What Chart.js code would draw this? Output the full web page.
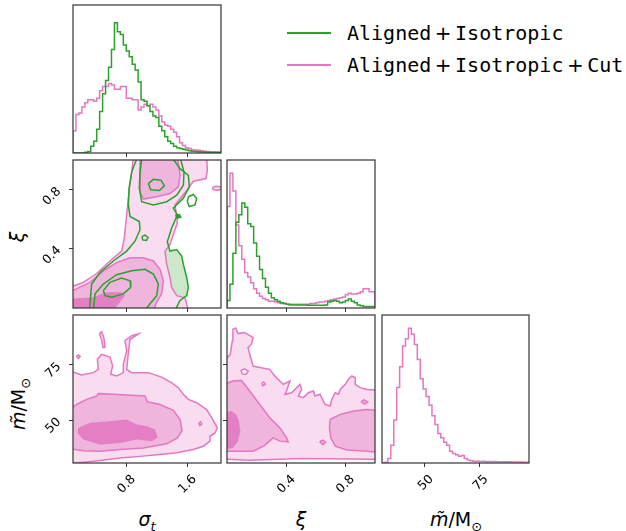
<!DOCTYPE html>
<html>
<head>
<meta charset="utf-8">
<script src="https://cdn.jsdelivr.net/npm/chart.js@4.4.0/dist/chart.umd.min.js"></script>
<style>
html, body { margin: 0; padding: 0; background: #fff; }
#fig { position: relative; width: 626px; height: 531px; overflow: hidden; }
.panel { position: absolute; }
.panel canvas { display: block; }
.lab { position: absolute; font-family: "DejaVu Sans", sans-serif; font-size: 19px; color: #000;
       transform: translate(-50%, -50%); white-space: nowrap; line-height: 1; }
.lab sub { font-size: 13px; vertical-align: -5px; line-height: 0; }
.lab.rot { transform: translate(-50%, -50%) rotate(-90deg); }
.legend { position: absolute; left: 287px; top: 17px; font-family: "DejaVu Sans Mono", monospace;
          font-size: 20px; color: #000; }
.legend .row { display: flex; align-items: center; height: 32px; white-space: nowrap; }
.legend .sw { width: 44px; height: 2px; margin-right: 16px; }
.legend .op { font-family: "DejaVu Sans", sans-serif; margin: 0 3.5px; }
</style>
</head>
<body>
<div id="fig">
  <div class="legend">
    <div class="row"><div class="sw" style="background:#2ca02c"></div>Aligned<span class="op">+</span>Isotropic</div>
    <div class="row"><div class="sw" style="background:#e377c2"></div>Aligned<span class="op">+</span>Isotropic<span class="op">+</span>Cut</div>
  </div>
  <div class="lab" style="left:147px;top:519px"><i>σ</i><sub><i>t</i></sub></div>
  <div class="lab" style="left:301px;top:519px"><i>ξ</i></div>
  <div class="lab" style="left:456px;top:519px"><i>m̃</i>/M<sub>⊙</sub></div>
  <div class="lab rot" style="left:17px;top:237px"><i>ξ</i></div>
  <div class="lab rot" style="left:18px;top:404px"><i>m̃</i>/M<sub>⊙</sub></div>
</div>
<script>
// axis ranges and ticks
const SIGMA_RANGE = [0.096, 2.037];
const XI_RANGE = [-0.004, 1.0];
const M_RANGE = [30.6, 97.6];
const SIGMA_TICKS = [0.8, 1.6];
const XI_TICKS = [0.4, 0.8];
const M_TICKS = [50, 75];

// 1D marginals, 50 bins each, normalised to the panel height
const sigmaHistAligned = [0, 0, 0, 0, 0.005, 0.01, 0.045, 0.08, 0.16, 0.28,
  0.40, 0.49, 0.58, 0.70, 0.88, 0.82, 0.80, 0.73, 0.69, 0.65,
  0.60, 0.56, 0.48, 0.36, 0.35, 0.32, 0.28, 0.25, 0.24, 0.18,
  0.15, 0.11, 0.08, 0.065, 0.045, 0.035, 0.03, 0.025, 0.02, 0.015,
  0.012, 0.01, 0.008, 0.007, 0.006, 0.005, 0.004, 0.004, 0.003, 0.003];
const sigmaHistCut = [0.15, 0.26, 0.27, 0.31, 0.34, 0.36, 0.36, 0.35, 0.37, 0.42,
  0.45, 0.45, 0.47, 0.46, 0.43, 0.43, 0.45, 0.45, 0.37, 0.37,
  0.36, 0.36, 0.29, 0.31, 0.33, 0.32, 0.33, 0.31, 0.29, 0.25,
  0.21, 0.19, 0.18, 0.16, 0.14, 0.11, 0.07, 0.05, 0.035, 0.03,
  0.022, 0.02, 0.018, 0.015, 0.012, 0.01, 0.009, 0.008, 0.007, 0.006];
const xiHistAligned = [0.05, 0.16, 0.37, 0.58, 0.63, 0.71, 0.68, 0.57, 0.55, 0.44,
  0.35, 0.26, 0.20, 0.14, 0.10, 0.07, 0.055, 0.045, 0.035, 0.03,
  0.025, 0.02, 0.02, 0.02, 0.02, 0.02, 0.02, 0.018, 0.018, 0.018,
  0.018, 0.018, 0.018, 0.02, 0.04, 0.045, 0.05, 0.045, 0.035, 0.04,
  0.05, 0.06, 0.045, 0.035, 0.02, 0.015, 0.01, 0.01, 0.01, 0.01];
const xiHistCut = [0.685, 0.91, 0.79, 0.56, 0.42, 0.33, 0.24, 0.21, 0.17, 0.13,
  0.10, 0.08, 0.065, 0.055, 0.045, 0.045, 0.04, 0.035, 0.03, 0.03,
  0.025, 0.025, 0.025, 0.025, 0.025, 0.025, 0.025, 0.025, 0.03, 0.03,
  0.035, 0.04, 0.04, 0.045, 0.05, 0.055, 0.06, 0.065, 0.07, 0.075,
  0.09, 0.10, 0.095, 0.095, 0.10, 0.11, 0.13, 0.13, 0.11, 0.11];
const massHistCut = [0, 0.005, 0.03, 0.12, 0.29, 0.51, 0.65, 0.79, 0.84, 0.91,
  0.87, 0.80, 0.70, 0.57, 0.50, 0.45, 0.39, 0.32, 0.26, 0.20,
  0.17, 0.14, 0.12, 0.08, 0.065, 0.055, 0.045, 0.05, 0.03, 0.02,
  0.015, 0.012, 0.012, 0.01, 0.011, 0.009, 0.01, 0.008, 0.01, 0.009,
  0.008, 0.009, 0.007, 0.008, 0.007, 0.006, 0.007, 0.006, 0.005, 0.005];

// 2D credible contours as [x, y] outlines in data units
// sigma_t vs xi
const sxCutOuter = [[0.05,-0.02],[0.05,0.136],[0.232,0.170],[0.407,0.230],[0.581,0.315],[0.734,0.382],
  [0.769,0.472],[0.791,0.583],[0.813,0.695],[0.835,0.807],[0.866,0.918],[0.887,1.02],[1.849,1.02],
  [1.858,0.930],[1.84,0.874],[1.674,0.856],[1.609,0.807],[1.521,0.751],[1.434,0.695],[1.456,0.617],
  [1.465,0.572],[1.412,0.494],[1.368,0.427],[1.303,0.382],[1.325,0.293],[1.368,0.203],[1.39,0.136],
  [1.456,0.080],[1.565,0.065],[1.609,-0.02]];
const sxCutIsle = [[1.93,0.815],[1.98,0.822],[2.05,0.815],[2.05,0.80],[1.98,0.795],[1.93,0.80]];
const sxCutMidTop = [[0.984,1.02],[0.975,0.896],[0.975,0.784],[1.019,0.735],[1.194,0.751],[1.368,0.773],
  [1.478,0.818],[1.500,0.896],[1.465,1.02]];
const sxCutMidLow = [[0.05,0.103],[0.319,0.170],[0.494,0.248],[0.669,0.304],[0.844,0.337],[1.019,0.337],
  [1.15,0.315],[1.237,0.259],[1.281,0.181],[1.259,0.092],[1.194,0.036],[1.15,-0.02],[0.05,-0.02]];
const sxCutCore = [[0.05,0.058],[0.363,0.069],[0.538,0.103],[0.734,0.103],[0.778,0.080],[0.713,0.036],
  [0.625,-0.02],[0.05,-0.02]];
const sxAlignedOuter = [[0.94,1.02],[0.866,0.918],[0.831,0.807],[0.822,0.695],[0.844,0.617],[0.966,0.583],
  [0.975,0.527],[0.909,0.449],[0.8,0.382],[0.625,0.315],[0.45,0.237],[0.341,0.159],[0.311,-0.02],
  [1.434,-0.02],[1.5,0.047],[1.587,0.080],[1.609,0.136],[1.587,0.203],[1.543,0.293],[1.521,0.349],
  [1.456,0.393],[1.368,0.382],[1.333,0.445],[1.39,0.539],[1.465,0.628],[1.412,0.673],[1.543,0.740],
  [1.622,0.818],[1.609,0.896],[1.50,0.941],[1.39,1.02]];
const sxAlignedTop = [[1.0,1.02],[0.975,0.918],[0.966,0.807],[0.997,0.717],[1.15,0.695],[1.325,0.717],
  [1.456,0.762],[1.543,0.829],[1.552,0.918],[1.50,1.02]];
const sxAlignedTopCore = [[1.084,0.840],[1.15,0.869],[1.25,0.863],[1.294,0.825],[1.229,0.793],[1.115,0.798]];
const sxAlignedLow = [[0.363,-0.02],[0.385,0.092],[0.494,0.159],[0.669,0.222],[0.866,0.248],[1.041,0.259],
  [1.15,0.226],[1.215,0.159],[1.194,0.080],[1.106,0.025],[1.04,-0.02]];
const sxAlignedLowCore = [[0.494,0.114],[0.581,0.170],[0.734,0.199],[0.844,0.181],[0.853,0.136],
  [0.756,0.092],[0.603,0.069],[0.516,0.080]];
const sxAlignedIsleA = [[1.609,0.751],[1.674,0.766],[1.718,0.740],[1.696,0.695],[1.622,0.684],[1.596,0.717]];
const sxAlignedIsleB = [[1.0,0.48],[1.04,0.49],[1.08,0.475],[1.06,0.455],[1.01,0.458]];
const sxAlignedIsleC = [[1.44,0.625],[1.49,0.63],[1.51,0.612],[1.47,0.605]];

// sigma_t vs mass
const smCutOuter = [[0.05,72.3],[0.210,70.5],[0.363,71.5],[0.428,73.0],[0.415,77.6],[0.472,79.8],
  [0.581,78.6],[0.616,74.5],[0.590,70.8],[0.669,70.0],[0.756,71.5],[0.756,75.3],[0.800,81.4],
  [0.778,86.0],[0.866,88.2],[0.953,89.0],[0.844,86.5],[0.822,80.5],[0.800,73.0],[0.866,71.5],
  [1.084,71.5],[1.259,69.5],[1.390,66.9],[1.478,64.7],[1.543,61.7],[1.609,59.4],[1.718,57.9],
  [1.849,54.8],[1.915,51.1],[1.989,46.5],[1.958,44.2],[1.893,42.7],[1.893,40.5],[1.805,38.2],
  [1.674,36.7],[1.456,35.2],[1.237,34.4],[0.975,33.6],[0.713,32.9],[0.45,31.7],[0.275,31.1],[0.05,30.5]];
const smCutMid = [[0.05,54.8],[0.144,57.1],[0.275,59.4],[0.407,60.9],[0.428,62.0],[0.625,61.7],
  [0.800,61.4],[1.041,60.9],[1.071,58.3],[1.237,57.1],[1.412,54.4],[1.500,50.3],[1.526,45.3],
  [1.465,42.0],[1.325,39.3],[1.019,37.4],[0.713,36.7],[0.450,35.9],[0.232,36.2],[0.05,37.1]];
const smCutCore = [[0.166,46.5],[0.319,48.8],[0.581,49.5],[0.800,50.3],[0.931,48.0],[1.062,47.3],
  [1.172,45.8],[1.207,42.0],[1.128,40.5],[0.931,41.2],[0.713,39.7],[0.450,38.9],[0.232,41.2],[0.153,44.2]];
const smCutIsleA = [[0.441,89.2],[0.472,90.0],[0.50,87.5],[0.516,83.0],[0.49,82.8],[0.47,86.5]];
const smCutIsleB = [[0.14,79.0],[0.166,79.5],[0.19,78.9],[0.166,77.9]];
const smCutIsleC = [[1.745,48.8],[1.77,49.3],[1.785,48.2],[1.76,47.5]];

// xi vs mass
const xmCutOuter = [[-0.02,76.8],[0.018,79.8],[0.032,85.9],[0.036,91.2],[0.055,91.7],[0.07,89.2],
  [0.116,89.7],[0.173,87.4],[0.161,84.4],[0.139,82.9],[0.15,79.8],[0.173,74.5],[0.218,73.8],
  [0.286,73.0],[0.32,70.0],[0.377,66.2],[0.423,67.7],[0.4,63.2],[0.389,61.7],[0.434,62.4],
  [0.491,66.2],[0.502,63.9],[0.48,60.9],[0.514,60.2],[0.548,62.4],[0.582,63.2],[0.593,60.9],
  [0.627,61.7],[0.661,57.1],[0.695,56.4],[0.707,59.4],[0.73,62.4],[0.752,61.7],[0.764,63.9],
  [0.798,66.2],[0.82,68.5],[0.843,70.0],[0.866,69.2],[0.866,66.2],[0.9,64.7],[0.945,63.9],
  [1.02,63.5],[1.02,32.3],[0.5,32.6],[0.15,31.8],[-0.02,32.3]];
const xmCutMidLeft = [[-0.02,66.2],[0.036,67.7],[0.093,68.0],[0.15,63.2],[0.218,57.1],[0.286,51.1],
  [0.355,46.5],[0.4,42.0],[0.411,40.2],[0.355,40.5],[0.309,42.0],[0.25,38.5],[0.173,35.9],[-0.02,35.9]];
const xmCutMidRight = [[0.695,50.3],[0.764,52.6],[0.855,54.1],[0.945,54.8],[1.02,54.4],[1.02,35.5],
  [0.923,36.0],[0.809,36.5],[0.73,38.2],[0.7,42.0],[0.691,46.5]];
const xmCutCore = [[-0.02,53.3],[0.025,54.1],[0.059,52.6],[0.077,49.5],[0.086,45.0],[0.07,40.5],
  [0.036,37.4],[-0.02,36.7]];
const xmCutHoleA = [[0.09,72.5],[0.116,73.2],[0.14,72.2],[0.125,70.8],[0.10,70.9]];
const xmCutHoleB = [[0.232,66.8],[0.245,67.3],[0.255,66.3],[0.24,65.5]];
const xmCutIsleC = [[0.625,40.3],[0.645,41.0],[0.665,40.0],[0.645,38.9]];
const xmCutIsleD = [[0.905,58.4],[0.927,59.2],[0.95,58.2],[0.93,57.3]];

// colours
const GREEN = '#2ca02c';
const PINK = '#e377c2';
const PINK_LIGHT = '#f9dcef';
const PINK_MID = '#efb5dc';
const PINK_DARK = '#e47fc5';
const GREEN_LIGHT = '#cbe8cb';

// fills the closed outline of a dataset from the points Chart.js placed
const areaFill = {
  id: 'areaFill',
  beforeDatasetDraw(chart, args) {
    const ds = chart.data.datasets[args.index];
    if (!ds.areaColor) return;
    const pts = args.meta.data;
    const a = chart.chartArea;
    const ctx = chart.ctx;
    ctx.save();
    ctx.beginPath();
    ctx.rect(a.left, a.top, a.right - a.left, a.bottom - a.top);
    ctx.clip();
    ctx.beginPath();
    pts.forEach((p, i) => (i ? ctx.lineTo(p.x, p.y) : ctx.moveTo(p.x, p.y)));
    ctx.closePath();
    ctx.fillStyle = ds.areaColor;
    ctx.fill();
    ctx.restore();
  }
};

// box round every panel
const frame = {
  id: 'frame',
  afterDatasetsDraw(chart) {
    const a = chart.chartArea;
    const ctx = chart.ctx;
    ctx.save();
    ctx.strokeStyle = '#333';
    ctx.lineWidth = 1.2;
    ctx.strokeRect(a.left, a.top, a.right - a.left, a.bottom - a.top);
    ctx.restore();
  }
};

function contour(points, fill, line) {
  const data = points.map(([x, y]) => ({x, y}));
  data.push(data[0]);
  return {
    data, showLine: true, pointRadius: 0, tension: 0, clip: 0,
    borderWidth: line ? 1.5 : 0, borderColor: line || 'rgba(0,0,0,0)',
    areaColor: fill || null
  };
}

function hist(values, range, color) {
  const [lo, hi] = range;
  const w = (hi - lo) / values.length;
  const data = [{x: lo, y: 0}];
  values.forEach((v, i) => data.push({x: lo + i * w, y: v}));
  data.push({x: hi, y: values[values.length - 1]});
  data.push({x: hi, y: 0});
  return {data, showLine: true, stepped: true, pointRadius: 0, borderWidth: 1.5, borderColor: color, clip: 0};
}

function axis(range, ticks, showLabels, dir, fmt) {
  return {
    type: 'linear', min: range[0], max: range[1],
    afterBuildTicks: s => { s.ticks = ticks.map(v => ({value: v})); },
    afterFit: s => { if (dir === 'x') s.height = 40; else s.width = 40; },
    grid: {drawOnChartArea: false, drawTicks: true, tickLength: 4, color: '#333', lineWidth: 1},
    border: {display: false},
    ticks: {
      display: showLabels, autoSkip: false, minRotation: 45, maxRotation: 45,
      padding: dir === 'x' ? 5 : 10, labelOffset: dir === 'x' ? 7 : 0,
      font: {family: 'DejaVu Sans', size: 12.5}, color: '#000',
      callback: fmt
    }
  };
}

const oneDecimal = v => v.toFixed(1);
const whole = v => String(Math.round(v));

const fig = document.getElementById('fig');

function panel(rect, x, y, datasets) {
  const L = 60, T = 20, R = 6, B = 50, AX = 40;
  const wrap = document.createElement('div');
  wrap.className = 'panel';
  wrap.style.left = (rect.x - L) + 'px';
  wrap.style.top = (rect.y - T) + 'px';
  const cv = document.createElement('canvas');
  cv.width = rect.w + L + R;
  cv.height = rect.h + T + B;
  wrap.appendChild(cv);
  fig.appendChild(wrap);
  // first dataset in the list is painted first
  datasets.forEach((d, i) => { d.order = 1000 - i; });
  new Chart(cv, {
    type: 'scatter',
    data: {datasets},
    options: {
      responsive: false, animation: false, events: [],
      layout: {padding: {left: y ? L - AX : L, top: T, right: R, bottom: B - AX}},
      plugins: {legend: {display: false}, tooltip: {enabled: false}},
      scales: {x, y: y || {display: false, min: 0, max: 1}}
    },
    plugins: [areaFill, frame]
  });
}

// top row: sigma_t marginal
panel({x: 73, y: 5, w: 148, h: 148},
  axis(SIGMA_RANGE, SIGMA_TICKS, false, 'x', oneDecimal), null,
  [hist(sigmaHistCut, SIGMA_RANGE, PINK), hist(sigmaHistAligned, SIGMA_RANGE, GREEN)]);

// middle row: xi vs sigma_t, xi marginal
panel({x: 73, y: 160, w: 148, h: 148},
  axis(SIGMA_RANGE, SIGMA_TICKS, false, 'x', oneDecimal),
  axis(XI_RANGE, XI_TICKS, true, 'y', oneDecimal),
  [
    contour(sxAlignedOuter, GREEN_LIGHT, null),
    contour(sxCutOuter, PINK_LIGHT, PINK),
    contour(sxCutIsle, PINK_LIGHT, PINK),
    contour(sxCutMidTop, PINK_MID, PINK),
    contour(sxCutMidLow, PINK_MID, PINK),
    contour(sxCutCore, PINK_DARK, null),
    contour(sxAlignedOuter, null, GREEN),
    contour(sxAlignedTop, null, GREEN),
    contour(sxAlignedTopCore, null, GREEN),
    contour(sxAlignedLow, null, GREEN),
    contour(sxAlignedLowCore, null, GREEN),
    contour(sxAlignedIsleA, null, GREEN),
    contour(sxAlignedIsleB, null, GREEN),
    contour(sxAlignedIsleC, GREEN, GREEN)
  ]);

panel({x: 227, y: 160, w: 148, h: 148},
  axis(XI_RANGE, XI_TICKS, false, 'x', oneDecimal), null,
  [hist(xiHistCut, XI_RANGE, PINK), hist(xiHistAligned, XI_RANGE, GREEN)]);

// bottom row: mass against sigma_t and xi, mass marginal
panel({x: 73, y: 315, w: 148, h: 148},
  axis(SIGMA_RANGE, SIGMA_TICKS, true, 'x', oneDecimal),
  axis(M_RANGE, M_TICKS, true, 'y', whole),
  [
    contour(smCutOuter, PINK_LIGHT, PINK),
    contour(smCutIsleA, PINK_LIGHT, PINK),
    contour(smCutIsleB, PINK_LIGHT, PINK),
    contour(smCutIsleC, PINK_LIGHT, PINK),
    contour(smCutMid, PINK_MID, PINK),
    contour(smCutCore, PINK_DARK, null)
  ]);

panel({x: 227, y: 315, w: 148, h: 148},
  axis(XI_RANGE, XI_TICKS, true, 'x', oneDecimal),
  axis(M_RANGE, M_TICKS, false, 'y', whole),
  [
    contour(xmCutOuter, PINK_LIGHT, PINK),
    contour(xmCutHoleA, '#fff', PINK),
    contour(xmCutHoleB, '#fff', PINK),
    contour(xmCutMidLeft, PINK_MID, PINK),
    contour(xmCutMidRight, PINK_MID, PINK),
    contour(xmCutIsleC, PINK_MID, PINK),
    contour(xmCutIsleD, PINK_MID, PINK),
    contour(xmCutCore, PINK_DARK, null)
  ]);

panel({x: 382, y: 315, w: 147, h: 148},
  axis(M_RANGE, M_TICKS, true, 'x', whole), null,
  [hist(massHistCut, M_RANGE, PINK)]);
</script>
</body>
</html>
